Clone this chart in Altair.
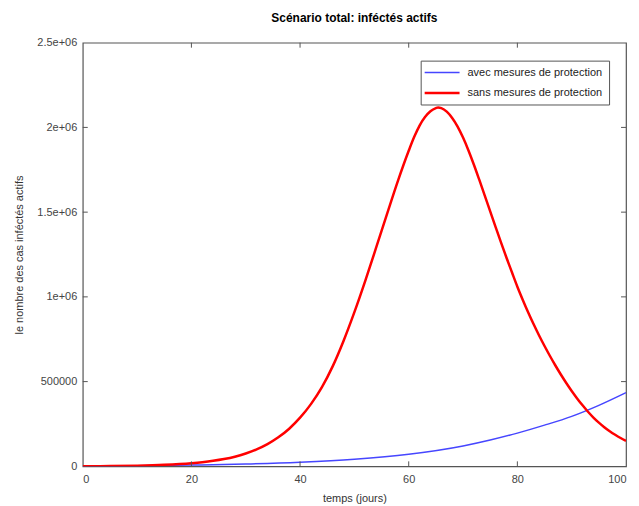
import altair as alt
import pandas as pd

# ---- data ----
red_days = [0, 5, 10, 15, 20, 22, 24, 26, 28, 30, 32, 34, 36, 38, 40, 42, 44, 46, 48, 50,
            52, 54, 56, 58, 60, 61, 62, 63, 64, 65, 65.4, 66, 67, 68,
            69, 70, 71, 72, 73, 74, 75, 76, 77, 78, 79, 80, 81, 82, 83, 84, 85, 86, 87,
            88, 89, 90, 91, 92, 93, 94, 95, 96, 97, 98, 99, 100]
red_vals = [300, 1500, 4000, 9000, 18500, 24500, 32500, 43000, 57000, 76000, 100000,
            131000, 171000, 222000, 287000, 367000, 466000, 590000, 740000, 910000,
            1095000, 1290000, 1488000, 1683000, 1862000, 1943000, 2011000, 2061000,
            2095000, 2114000, 2118000, 2114000, 2093000, 2056000, 2005000, 1940000,
            1864000, 1780000, 1690000, 1598000, 1505000, 1412000, 1320000, 1231000,
            1145000, 1060000, 982000, 908000, 838000, 772000, 710000, 651000, 595000,
            542000, 492000, 445000, 401000, 360000, 322000, 288000, 258000, 231000,
            207000, 186000, 167000, 150000]
blue_days = [0, 10, 20, 30, 40, 50, 60, 70, 75, 80, 85, 90, 95, 100]
blue_vals = [2000, 3900, 7500, 13500, 24000, 41500, 71000, 120000, 155000, 196000, 243000,
             295000, 360000, 435000]

series_names = ["avec mesures de protection", "sans mesures de protection"]
series_colors = ["#4646ff", "#ff0000"]
series_widths = [1.5, 2.5]

x_ticks = [0, 20, 40, 60, 80, 100]
y_ticks = [0, 500000, 1000000, 1500000, 2000000, 2500000]
y_tick_labels = ["0", "500000", "1e+06", "1.5e+06", "2e+06", "2.5e+06"]

title_text = "Scénario total: inféctés actifs"
x_title = "temps (jours)"
y_title = "le nombre des cas inféctés actifs"

# ---- build tables ----
rows = []
for d, v in zip(blue_days, blue_vals):
    rows.append({"day": d, "value": v, "serie": series_names[0]})
for d, v in zip(red_days, red_vals):
    rows.append({"day": d, "value": v, "serie": series_names[1]})
df = pd.DataFrame(rows)

xt = pd.DataFrame({"day": x_ticks[1:-1]})
yt = pd.DataFrame({"value": y_ticks[1:-1]})

W, H = 545, 425
FONT = "Liberation Sans"
AX = "#555555"

label_expr = ""
for v, l in zip(y_ticks, y_tick_labels):
    label_expr += f"datum.value == {v} ? '{l}' : "
label_expr += "''"

xscale = alt.Scale(domain=[0, 100], nice=False, zero=False)
yscale = alt.Scale(domain=[0, 2500000], nice=False)
xaxis = alt.Axis(values=x_ticks, title=x_title, grid=False, domain=False,
                 ticks=False, labelPadding=7, titlePadding=8)
yaxis = alt.Axis(values=y_ticks, labelExpr=label_expr, title=y_title, grid=False,
                 domain=False, ticks=False, labelPadding=6, titlePadding=12)

legend = alt.Legend(title=None, orient="none", legendX=339, legendY=18,
                    symbolType="M-1.7,0H5.3", symbolSize=100,
                    labelFontSize=11, labelFont=FONT, labelColor="#222",
                    strokeColor=AX, fillColor="white", padding=6,
                    rowPadding=9, labelOffset=28, labelLimit=300)

lines = alt.Chart(df).mark_line(interpolate="monotone", clip=True).encode(
    x=alt.X("day:Q", scale=xscale, axis=xaxis),
    y=alt.Y("value:Q", scale=yscale, axis=yaxis),
    color=alt.Color("serie:N",
                    scale=alt.Scale(domain=series_names, range=series_colors),
                    legend=legend),
    strokeWidth=alt.StrokeWidth("serie:N",
                                scale=alt.Scale(domain=series_names, range=series_widths),
                                legend=legend),
)

tick_b = alt.Chart(xt).mark_rule(color=AX).encode(
    x=alt.X("day:Q", scale=xscale, axis=xaxis), y=alt.value(H), y2=alt.value(H - 5))
tick_t = alt.Chart(xt).mark_rule(color=AX).encode(
    x=alt.X("day:Q", scale=xscale, axis=xaxis), y=alt.value(0), y2=alt.value(5))
tick_l = alt.Chart(yt).mark_rule(color=AX).encode(
    y=alt.Y("value:Q", scale=yscale, axis=yaxis), x=alt.value(0), x2=alt.value(5))
tick_r = alt.Chart(yt).mark_rule(color=AX).encode(
    y=alt.Y("value:Q", scale=yscale, axis=yaxis), x=alt.value(W), x2=alt.value(W - 5))

chart = alt.layer(lines, tick_b, tick_t, tick_l, tick_r).properties(
    width=W, height=H,
    title=alt.TitleParams(title_text, fontSize=12, fontWeight="bold", font=FONT,
                          color="black", anchor="middle", offset=12),
    autosize=alt.AutoSizeParams(type="none"),
    padding={"left": 75, "top": 34, "right": 5, "bottom": 39},
    background="white",
).configure_view(stroke=AX, strokeWidth=1.2).configure_axis(
    labelFont=FONT, labelFontSize=11, labelColor="#444",
    titleFont=FONT, titleFontSize=11, titleColor="#333", titleFontWeight="normal",
)

chart.save("out.html", embed_options={"renderer": "svg", "actions": False})
